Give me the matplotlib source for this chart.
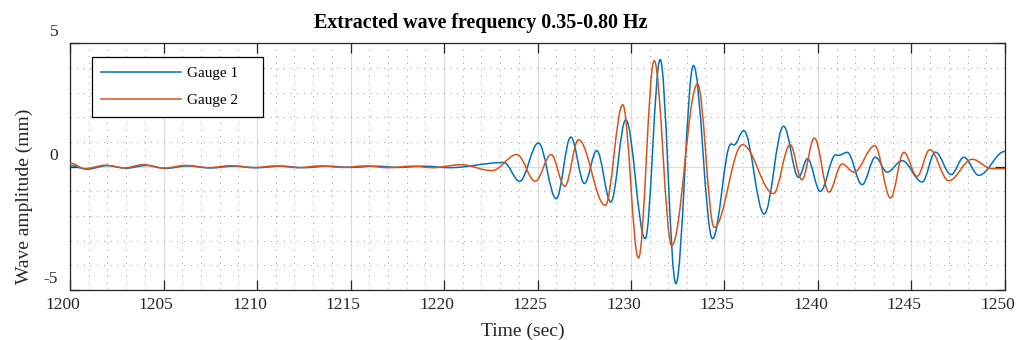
import matplotlib
matplotlib.use('Agg')
import matplotlib.pyplot as plt
from matplotlib.path import Path
from matplotlib.patches import PathPatch
from matplotlib.lines import Line2D
from matplotlib.transforms import ScaledTranslation

plt.rcParams['font.family'] = 'Liberation Serif'
plt.rcParams['axes.unicode_minus'] = False

# extrema of each filtered signal (time in s, amplitude in mm)
gauge1_t = [1200.0, 1200.9, 1202.0, 1203.0, 1204.1, 1205.1, 1206.3, 1207.5, 1208.8, 1210.0,
            1211.3, 1212.5, 1213.8, 1215.0, 1216.3, 1217.6, 1218.9, 1220.3, 1223.2, 1224.04,
            1225.05, 1226.0, 1226.78, 1227.51, 1228.17, 1228.92, 1229.72, 1230.76, 1231.56, 1232.4,
            1233.34, 1234.36, 1235.35, 1235.5, 1236.03, 1237.12, 1238.16, 1238.96, 1239.44, 1240.12,
            1240.95, 1241.1, 1241.56, 1242.36, 1243.07, 1243.7, 1244.5, 1245.57, 1246.28, 1247.12,
            1247.8, 1248.6, 1250.0]
gauge1_v = [0.05, -0.10, 0.04, -0.06, 0.05, -0.07, 0.03, -0.05, 0.02, -0.04,
            0.02, -0.04, 0.02, -0.03, 0.02, -0.03, 0.02, -0.04, 0.17, -0.59,
            0.96, -1.30, 1.20, -0.68, 0.65, -1.43, 1.90, -2.92, 4.34, -4.74,
            4.10, -2.92, 0.92, 0.88, 1.46, -1.92, 1.64, -0.43, 0.32, -1.00,
            0.48, 0.46, 0.58, -0.73, 0.38, -0.22, 0.24, -0.62, 0.59, -0.32,
            0.38, -0.35, 0.62]

gauge2_t = [1200.0, 1200.8, 1201.9, 1202.9, 1203.9, 1205.0, 1206.2, 1207.4, 1208.6, 1209.8,
            1211.0, 1212.2, 1213.4, 1214.6, 1215.8, 1217.0, 1218.3, 1219.4, 1220.9, 1222.56,
            1223.9, 1224.88, 1225.73, 1226.46, 1227.19, 1228.62, 1229.56, 1230.4, 1231.24, 1232.18,
            1233.56, 1234.45, 1235.96, 1237.62, 1238.51, 1239.14, 1239.81, 1240.58, 1241.29, 1241.92,
            1243.04, 1243.88, 1244.59, 1245.3, 1245.98, 1246.99, 1248.24, 1249.3, 1250.0]
gauge2_v = [0.15, -0.08, 0.06, -0.05, 0.08, -0.06, 0.05, -0.04, 0.04, -0.04,
            0.03, -0.04, 0.03, -0.03, 0.03, -0.04, 0.02, -0.04, 0.08, -0.16,
            0.49, -0.59, 0.49, -0.80, 1.09, -1.57, 2.51, -3.70, 4.30, -3.20,
            3.35, -2.46, 0.89, -1.09, 0.89, -0.53, 1.16, -1.03, 0.11, -0.22,
            0.85, -1.27, 0.58, -0.39, 0.69, -0.57, 0.30, -0.08, -0.08]

labels = ['Gauge 1', 'Gauge 2']
colors = ['#0072BD', '#D95319']


def wave_path(t, v, k=0.364):
    # smooth curve through the extrema: cubic segments with flat tangents
    verts = [(t[0], v[0])]
    codes = [Path.MOVETO]
    for i in range(1, len(t)):
        d = t[i] - t[i - 1]
        verts += [(t[i - 1] + k * d, v[i - 1]), (t[i] - k * d, v[i]), (t[i], v[i])]
        codes += [Path.CURVE4] * 3
    return Path(verts, codes)


fig = plt.figure(figsize=(10.18, 3.4), dpi=100)
ax = fig.add_axes([0.0688, 0.147, 0.9184, 0.7256])

for t, v, c in [(gauge1_t, gauge1_v, colors[0]), (gauge2_t, gauge2_v, colors[1])]:
    ax.add_patch(PathPatch(wave_path(t, v), fill=False, edgecolor=c, lw=1.1,
                           joinstyle='round', capstyle='round', zorder=3))

ax.set_xlim(1200, 1250)
ax.set_ylim(-5, 5)
ax.set_xticks(range(1200, 1251, 5))
ax.set_yticks([-5, 0, 5])
ax.set_xticks(range(1200, 1251, 1), minor=True)
ax.set_yticks(range(-5, 6, 1), minor=True)

ax.grid(True, which='major', color='#dcdcdc', lw=0.9, ls='-')
ax.grid(True, which='minor', color='#a8a8a8', lw=0.8, ls=(0, (1, 5)))
ax.set_axisbelow(True)

ax.tick_params(which='major', direction='in', length=7.2, width=0.9, color='#262626',
               top=True, right=True, labelsize=12.5, labelcolor='#262626')
ax.tick_params(which='minor', length=0, top=True, right=True)
ax.tick_params(axis='x', pad=5)
ax.tick_params(axis='y', pad=8.5)
for s in ax.spines.values():
    s.set_color('#262626')
    s.set_linewidth(0.9)

# tick labels sit a little up / left of their ticks in the original
yshift = ScaledTranslation(0, 13 / 100, fig.dpi_scale_trans)
for tk in ax.yaxis.get_major_ticks():
    tk.label1.set_transform(tk.label1.get_transform() + yshift)
xshift = ScaledTranslation(-7.5 / 100, 0, fig.dpi_scale_trans)
for tk in ax.xaxis.get_major_ticks():
    tk.label1.set_transform(tk.label1.get_transform() + xshift)

ax.set_xlabel('Time (sec)', fontsize=14, color='#262626')
ax.xaxis.set_label_coords(0.4845, -0.132)
ax.set_ylabel('Wave amplitude (mm)', fontsize=14, color='#262626')
ax.yaxis.set_label_coords(-0.0396, 0.38)

ax.text(0.4396, 1.082, 'Extracted wave frequency 0.35-0.80 Hz', transform=ax.transAxes,
        ha='center', va='center', fontsize=14.4, fontweight='bold')

handles = [Line2D([], [], color=c, lw=1.1) for c in colors]
leg = ax.legend(handles, labels, loc='upper left', mode='expand',
                bbox_to_anchor=(0.0235, 0.692, 0.1829, 0.251),
                borderaxespad=0, fontsize=11, handlelength=5.2, handletextpad=0.4,
                labelspacing=0.88, borderpad=0.6, fancybox=False, framealpha=1)
leg.get_frame().set_edgecolor('#000000')
leg.get_frame().set_linewidth(0.9)

fig.savefig('out.png', dpi=100)
